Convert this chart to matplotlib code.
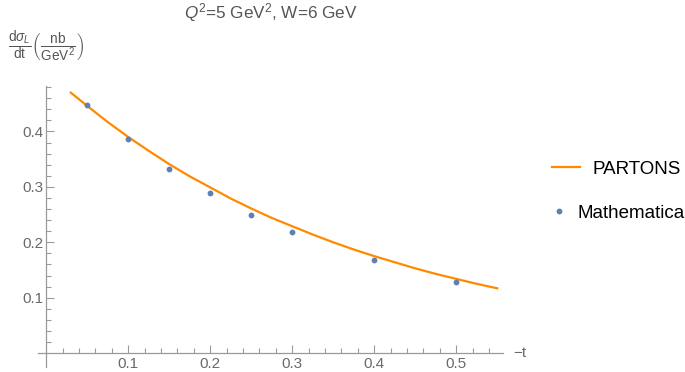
import numpy as np
import matplotlib.pyplot as plt
from matplotlib.ticker import FixedLocator

plt.rcParams['font.family'] = ['Liberation Sans', 'DejaVu Sans']
plt.rcParams['mathtext.fontset'] = 'custom'
plt.rcParams['mathtext.rm'] = 'Liberation Sans'
plt.rcParams['mathtext.it'] = 'Liberation Sans:italic'
plt.rcParams['mathtext.bf'] = 'Liberation Sans:bold'

# PARTONS curve
partons_t = [0.03, 0.05, 0.075, 0.10, 0.125, 0.15, 0.175, 0.20, 0.225, 0.25, 0.275,
             0.30, 0.325, 0.35, 0.375, 0.40, 0.425, 0.45, 0.475, 0.50, 0.525, 0.55]
partons_xs = [0.470, 0.446, 0.417, 0.390, 0.365, 0.341, 0.319, 0.299, 0.279, 0.261, 0.244,
              0.229, 0.214, 0.200, 0.187, 0.175, 0.164, 0.153, 0.143, 0.134, 0.125, 0.117]

# Mathematica points
math_t = [0.05, 0.10, 0.15, 0.20, 0.25, 0.30, 0.40, 0.50]
math_xs = [0.448, 0.386, 0.333, 0.289, 0.250, 0.218, 0.168, 0.129]

x_ticks = [0.1, 0.2, 0.3, 0.4, 0.5]
y_ticks = [0.1, 0.2, 0.3, 0.4]

orange = '#ff8a00'
blue = '#5e81b5'
axis_grey = '#9a9a9a'
label_grey = '#6a6a6a'

fig = plt.figure(figsize=(6.85, 3.72), dpi=100)
ax = fig.add_axes([38 / 685, 5 / 372, 465 / 685, 281 / 372])

line, = ax.plot(partons_t, partons_xs, color=orange, lw=1.6, label='PARTONS')
pts, = ax.plot(math_t, math_xs, 'o', color=blue, ms=4.2, mec='none', label='Mathematica')

ax.set_xlim(-0.01, 0.557)
ax.set_ylim(-0.025, 0.482)

for s in ['top', 'right']:
    ax.spines[s].set_visible(False)
ax.spines['left'].set_position(('data', 0))
ax.spines['bottom'].set_position(('data', 0))
for s in ['left', 'bottom']:
    ax.spines[s].set_color(axis_grey)
    ax.spines[s].set_linewidth(0.9)

ax.xaxis.set_major_locator(FixedLocator(x_ticks))
ax.yaxis.set_major_locator(FixedLocator(y_ticks))
ax.xaxis.set_minor_locator(FixedLocator([v for v in np.arange(0.02, 0.56, 0.02)
                                         if round(v * 50) % 5 != 0]))
ax.yaxis.set_minor_locator(FixedLocator([v for v in np.arange(0.02, 0.482, 0.02)
                                         if round(v * 50) % 5 != 0]))
ax.tick_params(which='both', direction='in', color=axis_grey, width=0.8,
               labelcolor=label_grey, labelsize=11)
ax.tick_params(which='major', length=6)
ax.tick_params(which='minor', length=3.5)
ax.tick_params(axis='x', pad=3)
ax.tick_params(axis='y', pad=2)

ax.set_title(r'$Q^2$=5 GeV$^2$, W=6 GeV', color='#555555', fontsize=12.3, pad=49)
fig.text(8 / 685, 1 - 47 / 372,
         r'$\frac{\mathrm{d}\sigma_L}{\mathrm{dt}}\left(\frac{\mathrm{nb}}{\mathrm{GeV}^2}\right)$',
         color='#555555', fontsize=14, va='center', ha='left')
ax.text(0.569, 0, '\u2212t', color=label_grey, fontsize=11, va='center', ha='left',
        transform=ax.transData)

leg1 = fig.legend(handles=[line], loc='center left', bbox_to_anchor=(552 / 685, 1 - 169 / 372),
                  frameon=False, fontsize=13.5, handlelength=1.5, handletextpad=0.65,
                  borderpad=0, borderaxespad=0)
fig.legend(handles=[pts], loc='center left', bbox_to_anchor=(552 / 685, 1 - 213 / 372),
           frameon=False, fontsize=13.5, handlelength=0.75, handletextpad=0.6,
           borderpad=0, borderaxespad=0)

fig.savefig('out.png', dpi=100)
